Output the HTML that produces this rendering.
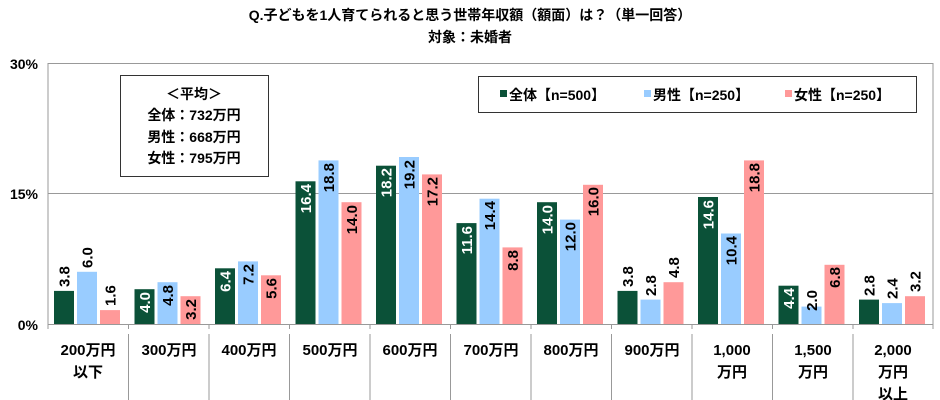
<!DOCTYPE html>
<html><head><meta charset="utf-8"><style>
body{margin:0;background:#fff;}
svg{display:block;font-family:"Liberation Sans","Noto Sans CJK JP",sans-serif;font-weight:bold;}
.v{font-size:15px;}
.w{fill:#fff;}
</style></head><body>
<svg width="940" height="400" viewBox="0 0 940 400" xmlns="http://www.w3.org/2000/svg">
<text x="470" y="20" text-anchor="middle" font-size="14">Q.子どもを1人育てられると思う世帯年収額（額面）は？（単一回答）</text>
<text x="470" y="42" text-anchor="middle" font-size="14">対象：未婚者</text>
<g font-size="14" text-anchor="end">
<text x="38" y="69">30%</text><text x="38" y="199">15%</text><text x="38" y="330">0%</text>
</g>
<g stroke="#999" stroke-width="1" fill="none">
<line x1="48" y1="63.5" x2="933" y2="63.5"/>
<line x1="48" y1="193.5" x2="933" y2="193.5"/>
<line x1="933" y1="63" x2="933" y2="324"/>
<line x1="48" y1="63" x2="48" y2="324"/>
</g>
<g>
<rect x="54" y="290.9" width="20" height="33.1" fill="#0b5138"/><rect x="77" y="271.8" width="20" height="52.2" fill="#99ccff"/><rect x="100" y="310.1" width="20" height="13.9" fill="#ff9999"/>
<rect x="134.5" y="289.2" width="20" height="34.8" fill="#0b5138"/><rect x="157.5" y="282.2" width="20" height="41.8" fill="#99ccff"/><rect x="180.5" y="296.2" width="20" height="27.8" fill="#ff9999"/>
<rect x="215" y="268.3" width="20" height="55.7" fill="#0b5138"/><rect x="238" y="261.4" width="20" height="62.6" fill="#99ccff"/><rect x="261" y="275.3" width="20" height="48.7" fill="#ff9999"/>
<rect x="295.5" y="181.3" width="20" height="142.7" fill="#0b5138"/><rect x="318.5" y="160.4" width="20" height="163.6" fill="#99ccff"/><rect x="341.5" y="202.2" width="20" height="121.8" fill="#ff9999"/>
<rect x="376" y="165.7" width="20" height="158.3" fill="#0b5138"/><rect x="399" y="157" width="20" height="167" fill="#99ccff"/><rect x="422" y="174.4" width="20" height="149.6" fill="#ff9999"/>
<rect x="456.5" y="223.1" width="20" height="100.9" fill="#0b5138"/><rect x="479.5" y="198.7" width="20" height="125.3" fill="#99ccff"/><rect x="502.5" y="247.4" width="20" height="76.6" fill="#ff9999"/>
<rect x="537" y="202.2" width="20" height="121.8" fill="#0b5138"/><rect x="560" y="219.6" width="20" height="104.4" fill="#99ccff"/><rect x="583" y="184.8" width="20" height="139.2" fill="#ff9999"/>
<rect x="617.5" y="290.9" width="20" height="33.1" fill="#0b5138"/><rect x="640.5" y="299.6" width="20" height="24.4" fill="#99ccff"/><rect x="663.5" y="282.2" width="20" height="41.8" fill="#ff9999"/>
<rect x="698" y="197" width="20" height="127" fill="#0b5138"/><rect x="721" y="233.5" width="20" height="90.5" fill="#99ccff"/><rect x="744" y="160.4" width="20" height="163.6" fill="#ff9999"/>
<rect x="778.5" y="285.7" width="20" height="38.3" fill="#0b5138"/><rect x="801.5" y="306.6" width="20" height="17.4" fill="#99ccff"/><rect x="824.5" y="264.8" width="20" height="59.2" fill="#ff9999"/>
<rect x="859" y="299.6" width="20" height="24.4" fill="#0b5138"/><rect x="882" y="303.1" width="20" height="20.9" fill="#99ccff"/><rect x="905" y="296.2" width="20" height="27.8" fill="#ff9999"/>
</g>
<g class="v" text-anchor="start">
<text transform="translate(69.5,287) rotate(-90)">3.8</text>
<text transform="translate(92.5,268) rotate(-90)">6.0</text>
<text transform="translate(115.5,306) rotate(-90)">1.6</text>
<text transform="translate(633,287) rotate(-90)">3.8</text>
<text transform="translate(656,296) rotate(-90)">2.8</text>
<text transform="translate(679,278) rotate(-90)">4.8</text>
<text transform="translate(874.5,296) rotate(-90)">2.8</text>
<text transform="translate(897.5,299) rotate(-90)">2.4</text>
<text transform="translate(920.5,292) rotate(-90)">3.2</text>
</g>
<g class="v" text-anchor="end">
<text class="w" transform="translate(150,292) rotate(-90)">4.0</text>
<text transform="translate(173,285) rotate(-90)">4.8</text>
<text transform="translate(196,299) rotate(-90)">3.2</text>
<text class="w" transform="translate(230.5,271) rotate(-90)">6.4</text>
<text transform="translate(253.5,264) rotate(-90)">7.2</text>
<text transform="translate(276.5,278) rotate(-90)">5.6</text>
<text class="w" transform="translate(311,184) rotate(-90)">16.4</text>
<text transform="translate(334,163) rotate(-90)">18.8</text>
<text transform="translate(357,205) rotate(-90)">14.0</text>
<text class="w" transform="translate(391.5,168) rotate(-90)">18.2</text>
<text transform="translate(414.5,160) rotate(-90)">19.2</text>
<text transform="translate(437.5,177) rotate(-90)">17.2</text>
<text class="w" transform="translate(472,226) rotate(-90)">11.6</text>
<text transform="translate(495,201) rotate(-90)">14.4</text>
<text transform="translate(518,250) rotate(-90)">8.8</text>
<text class="w" transform="translate(552.5,205) rotate(-90)">14.0</text>
<text transform="translate(575.5,222) rotate(-90)">12.0</text>
<text transform="translate(598.5,187) rotate(-90)">16.0</text>
<text class="w" transform="translate(713.5,200) rotate(-90)">14.6</text>
<text transform="translate(736.5,236) rotate(-90)">10.4</text>
<text transform="translate(759.5,163) rotate(-90)">18.8</text>
<text class="w" transform="translate(794,288) rotate(-90)">4.4</text>
<text transform="translate(817,290) rotate(-90)">2.0</text>
<text transform="translate(840,267) rotate(-90)">6.8</text>
</g>
<g stroke="#999" stroke-width="1">
<line x1="48" y1="324.5" x2="933" y2="324.5"/>
<line x1="48" y1="324" x2="48" y2="329"/><line x1="128.5" y1="324" x2="128.5" y2="329"/><line x1="209" y1="324" x2="209" y2="329"/><line x1="289.5" y1="324" x2="289.5" y2="329"/><line x1="370" y1="324" x2="370" y2="329"/><line x1="450.5" y1="324" x2="450.5" y2="329"/><line x1="531" y1="324" x2="531" y2="329"/><line x1="611.5" y1="324" x2="611.5" y2="329"/><line x1="692" y1="324" x2="692" y2="329"/><line x1="772.5" y1="324" x2="772.5" y2="329"/><line x1="853" y1="324" x2="853" y2="329"/><line x1="933" y1="324" x2="933" y2="329"/>
<line x1="128.5" y1="334" x2="128.5" y2="400"/><line x1="209" y1="334" x2="209" y2="400"/><line x1="289.5" y1="334" x2="289.5" y2="400"/><line x1="370" y1="334" x2="370" y2="400"/><line x1="450.5" y1="334" x2="450.5" y2="400"/><line x1="531" y1="334" x2="531" y2="400"/><line x1="611.5" y1="334" x2="611.5" y2="400"/><line x1="692" y1="334" x2="692" y2="400"/><line x1="772.5" y1="334" x2="772.5" y2="400"/><line x1="853" y1="334" x2="853" y2="400"/>
</g>
<g font-size="15" text-anchor="middle">
<text x="88" y="355">200万円</text><text x="88" y="377">以下</text>
<text x="169" y="355">300万円</text>
<text x="249" y="355">400万円</text>
<text x="330" y="355">500万円</text>
<text x="410" y="355">600万円</text>
<text x="491" y="355">700万円</text>
<text x="571" y="355">800万円</text>
<text x="652" y="355">900万円</text>
<text x="732" y="355">1,000</text><text x="732" y="377">万円</text>
<text x="813" y="355">1,500</text><text x="813" y="377">万円</text>
<text x="893" y="355">2,000</text><text x="893" y="377">万円</text><text x="893" y="399">以上</text>
</g>
<rect x="120.5" y="75.5" width="148" height="101" fill="#fff" stroke="#333"/>
<g font-size="14" text-anchor="middle">
<text x="194" y="99">＜平均＞</text>
<text x="194" y="120">全体：732万円</text>
<text x="194" y="142">男性：668万円</text>
<text x="194" y="163">女性：795万円</text>
</g>
<rect x="478.5" y="76.5" width="438" height="36" fill="#fff" stroke="#333"/>
<rect x="500" y="90" width="7" height="7" fill="#0b5138"/>
<rect x="644" y="90" width="7" height="7" fill="#99ccff"/>
<rect x="785" y="90" width="7" height="7" fill="#ff9999"/>
<g font-size="14">
<text x="509" y="100">全体【n=500】</text>
<text x="653" y="100">男性【n=250】</text>
<text x="794" y="100">女性【n=250】</text>
</g>
</svg>
</body></html>
